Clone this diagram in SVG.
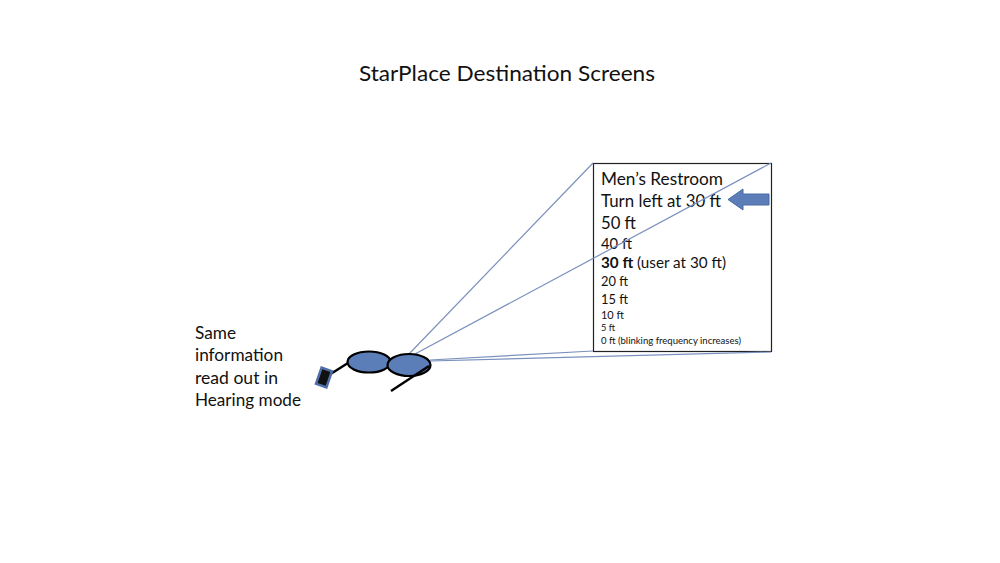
<svg xmlns="http://www.w3.org/2000/svg" width="1000" height="563" viewBox="0 0 1000 563">
<style>
text{font-family:Lato,"Liberation Sans",sans-serif;fill:#111}
.ray{stroke:#7a90bd;stroke-width:1.2;fill:none}
.blue{fill:#5b7db8;stroke:#000;stroke-width:2.2}
.blk{stroke:#000;stroke-width:2.4;fill:none}
</style>
<rect width="1000" height="563" fill="#fff"/>
<g id="title"><text x="359" y="80.500" font-size="21.500" textLength="296" lengthAdjust="spacingAndGlyphs">StarPlace Destination Screens</text></g>
<g id="screen">
<rect x="593.500" y="163.500" width="178" height="188" fill="#fff" stroke="#222" stroke-width="1.2"/>
<text x="601" y="185" font-size="16.500" textLength="122" lengthAdjust="spacingAndGlyphs">Men’s Restroom</text>
<text x="601" y="207" font-size="16.500" textLength="120" lengthAdjust="spacingAndGlyphs">Turn left at 30 ft</text>
<text x="601" y="229" font-size="16.500" textLength="35" lengthAdjust="spacingAndGlyphs">50 ft</text>
<text x="601" y="248.500" font-size="14.500" textLength="31" lengthAdjust="spacingAndGlyphs">40 ft</text>
<text x="601" y="267.500" font-size="14.500" textLength="125" lengthAdjust="spacingAndGlyphs"><tspan font-weight="700">30 ft</tspan> (user at 30 ft)</text>
<text x="601" y="285.500" font-size="13" textLength="27" lengthAdjust="spacingAndGlyphs">20 ft</text>
<text x="601" y="303.500" font-size="13" textLength="27" lengthAdjust="spacingAndGlyphs">15 ft</text>
<text x="601" y="319" font-size="11" textLength="23" lengthAdjust="spacingAndGlyphs">10 ft</text>
<text x="601" y="331" font-size="9" textLength="14" lengthAdjust="spacingAndGlyphs">5 ft</text>
<text x="601" y="344" font-size="9" textLength="140" lengthAdjust="spacingAndGlyphs">0 ft (blinking frequency increases)</text>
</g>
<g id="connectors">
<line class="ray" x1="409" y1="354" x2="593" y2="163"/>
<line class="ray" x1="415" y1="354" x2="771" y2="163"/>
<line class="ray" x1="430" y1="360" x2="593" y2="351"/>
<line class="ray" x1="430" y1="361" x2="771" y2="352"/>
</g>
<g id="arrow"><path d="M769 194V205H743V210L728 199.500 743 189V194Z" fill="#5b7db8" stroke="#4a6ca5" stroke-width="1"/></g>
<g id="glasses">
<line class="blk" x1="329" y1="375" x2="348" y2="363"/>
<ellipse class="blue" cx="369" cy="362" rx="21.500" ry="10.500"/>
<ellipse class="blue" cx="409" cy="365" rx="21.500" ry="11"/>
<line class="blk" x1="391" y1="391" x2="429" y2="366"/>
</g>
<g id="phone"><rect x="318.500" y="369" width="11" height="17" fill="#111" stroke="#4f6fa8" stroke-width="2.500" transform="rotate(19 324 377.500)"/></g>
<g id="note">
<text x="195" y="339" font-size="16.500" textLength="41" lengthAdjust="spacingAndGlyphs">Same</text>
<text x="195" y="361" font-size="16.500" textLength="88" lengthAdjust="spacingAndGlyphs">information</text>
<text x="195" y="384" font-size="16.500" textLength="83" lengthAdjust="spacingAndGlyphs">read out in</text>
<text x="195" y="406" font-size="16.500" textLength="106" lengthAdjust="spacingAndGlyphs">Hearing mode</text>
</g>
</svg>
